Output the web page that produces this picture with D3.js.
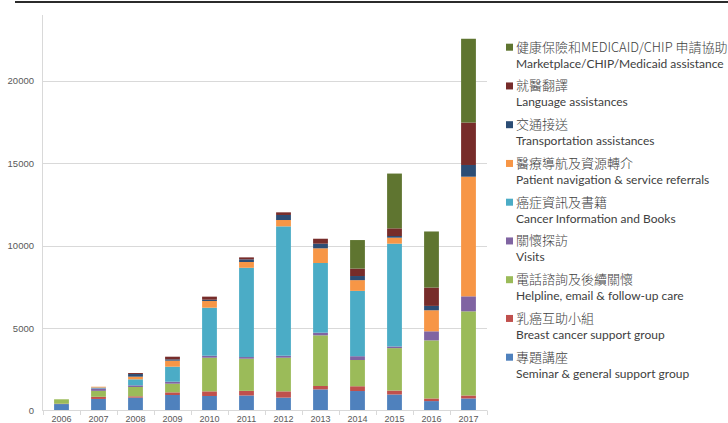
<!DOCTYPE html>
<html lang="en">
  <head>
    <meta charset="UTF-8" />
    <title></title>
    <script src="https://d3js.org/d3.v7.min.js"></script>
    <style>
      body { margin: 0; background: #fff; }
      svg { display: block; }
    </style>
  </head>
  <body>
    <svg id="chart" width="728" height="423"></svg>
    <script>
      // Data
      const years = ['2006', '2007', '2008', '2009', '2010', '2011', '2012', '2013', '2014', '2015', '2016', '2017']
      const seminar = [390, 700, 780, 940, 880, 910, 780, 1280, 1180, 970, 570, 730]
      const breastGroup = [20, 130, 80, 160, 280, 280, 380, 205, 290, 240, 160, 180]
      const helpline = [270, 360, 565, 525, 2040, 1950, 2040, 3070, 1590, 2570, 3520, 5100]
      const visits = [0, 150, 100, 120, 120, 100, 120, 160, 230, 100, 550, 910]
      const cancerInfo = [0, 50, 365, 910, 2910, 5410, 7840, 4225, 3960, 6230, 0, 0]
      const navigation = [0, 50, 160, 365, 405, 350, 385, 890, 650, 365, 1275, 7250]
      const transport = [0, 0, 160, 80, 80, 160, 305, 280, 250, 100, 265, 710]
      const language = [0, 0, 60, 160, 185, 120, 160, 300, 450, 465, 1110, 2570]
      const marketplace = [0, 0, 0, 0, 0, 0, 0, 0, 1730, 3320, 3400, 5080]
      const yTicks = [0, 5000, 10000, 15000, 20000]

      const seriesKeys = ['seminar', 'breastGroup', 'helpline', 'visits', 'cancerInfo', 'navigation', 'transport', 'language', 'marketplace']
      const seriesValues = [seminar, breastGroup, helpline, visits, cancerInfo, navigation, transport, language, marketplace]
      const colors = ['#4f81bd', '#c0504d', '#9bbb59', '#8064a2', '#4bacc6', '#f79646', '#2c4d75', '#772c2a', '#5f7530']
      const labelsZh = ['專題講座', '乳癌互助小組', '電話諮詢及後續關懷', '關懷探訪', '癌症資訊及書籍', '醫療導航及資源轉介', '交通接送', '就醫翻譯', '健康保險和MEDICAID/CHIP 申請協助']
      const labelsEn = ['Seminar & general support group', 'Breast cancer support group', 'Helpline, email & follow-up care', 'Visits', 'Cancer Information and Books', 'Patient navigation & service referrals', 'Transportation assistances', 'Language assistances', 'Marketplace/CHIP/Medicaid assistance']

      const svg = d3.select('#chart')

      // build table for the stack
      const rows = years.map((y, i) => {
        const r = { year: y }
        seriesKeys.forEach((k, j) => (r[k] = seriesValues[j][i]))
        return r
      })
      const stacked = d3.stack().keys(seriesKeys)(rows)

      const x = d3.scaleBand().domain(years).range([43, 487]).paddingInner(0.6).paddingOuter(0.3)
      const y = d3.scaleLinear().domain([0, 20000]).range([410.5, 80.5])

      // top rule
      svg.append('rect').attr('x', 15).attr('y', 1).attr('width', 713).attr('height', 2).attr('fill', '#2b2b2b')

      // gridlines
      svg.append('g')
        .selectAll('line')
        .data(yTicks.slice(1))
        .join('line')
        .attr('x1', 43).attr('x2', 487)
        .attr('y1', d => Math.round(y(d)) + 0.5).attr('y2', d => Math.round(y(d)) + 0.5)
        .attr('stroke', '#d9d9d9')

      // vertical axis line
      svg.append('line').attr('x1', 42.5).attr('x2', 42.5).attr('y1', 15).attr('y2', 411).attr('stroke', '#d9d9d9')

      // y labels
      svg.append('g')
        .selectAll('text')
        .data(yTicks)
        .join('text')
        .attr('x', 34)
        .attr('y', d => y(d) + 3.5)
        .attr('text-anchor', 'end')
        .attr('font-family', 'Liberation Sans, Arial, sans-serif')
        .attr('font-size', 9.5)
        .attr('fill', '#595959')
        .text(d => d)

      // bars
      svg.append('g')
        .selectAll('g')
        .data(stacked)
        .join('g')
        .attr('fill', (d, i) => colors[i])
        .selectAll('rect')
        .data(d => d)
        .join('rect')
        .attr('x', d => x(d.data.year))
        .attr('width', x.bandwidth())
        .attr('y', d => y(d[1]))
        .attr('height', d => y(d[0]) - y(d[1]))

      // x axis
      const xa = svg.append('g')
      xa.append('line').attr('x1', 43).attr('x2', 487).attr('y1', 410.5).attr('y2', 410.5).attr('stroke', '#d9d9d9')
      xa.selectAll('line.tick')
        .data(d3.range(years.length + 1))
        .join('line')
        .attr('class', 'tick')
        .attr('x1', i => 43 + i * x.step() + 0.5).attr('x2', i => 43 + i * x.step() + 0.5)
        .attr('y1', 410.5).attr('y2', 415)
        .attr('stroke', '#d9d9d9')
      xa.selectAll('text')
        .data(years)
        .join('text')
        .attr('x', d => x(d) + x.bandwidth() / 2)
        .attr('y', 422)
        .attr('text-anchor', 'middle')
        .attr('font-family', 'Liberation Sans, Arial, sans-serif')
        .attr('font-size', 9)
        .attr('fill', '#595959')
        .text(d => d)

      // legend, top to bottom in reverse stack order
      const legend = svg.append('g')
        .selectAll('g')
        .data(d3.range(seriesKeys.length).reverse())
        .join('g')
        .attr('transform', (d, i) => `translate(0,${46.7 + i * 38.75})`)
      legend.append('rect')
        .attr('x', 506).attr('y', -3).attr('width', 7).attr('height', 7)
        .attr('fill', i => colors[i])
      legend.append('text')
        .attr('x', 516).attr('y', 5)
        .attr('font-family', 'Noto Sans CJK TC, sans-serif')
        .attr('font-size', 13)
        .attr('font-weight', 300)
        .attr('fill', '#404040')
        .text(i => labelsZh[i])
      legend.append('text')
        .attr('x', 516).attr('y', 21)
        .attr('font-family', 'Lato, sans-serif')
        .attr('font-size', 12)
        .attr('fill', '#404040')
        .text(i => labelsEn[i])
    </script>
  </body>
</html>
